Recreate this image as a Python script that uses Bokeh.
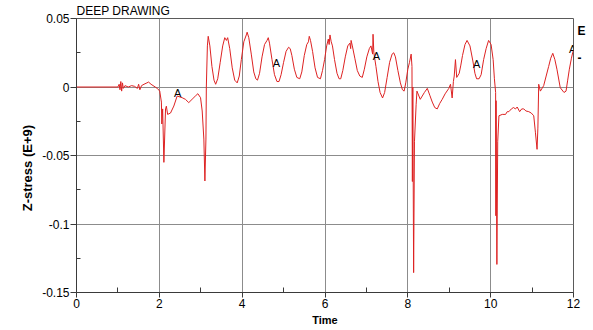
from bokeh.plotting import figure
from bokeh.models import Range1d, FixedTicker, ColumnDataSource, LinearAxis
from bokeh.embed import file_html
from bokeh.resources import INLINE
from bokeh.core.properties import value

title_text = "DEEP DRAWING"
y_label = "Z-stress (E+9)"
x_label = "Time"

x_ticks = [0, 2, 4, 6, 8, 10, 12]
x_minor = [1, 3, 5, 7, 9, 11]
y_ticks = [-0.15, -0.1, -0.05, 0, 0.05]
y_minor = [-0.125, -0.075, -0.025, 0.025]
y_tick_labels = ["-0.15", "-0.1", "-0.05", "0", "0.05"]

# clipped legend at the right edge
legend_y = [0.0409, 0.0212]
legend_text = ["E", "-"]

time = [0.0, 1.0, 1.03, 1.05, 1.07, 1.09, 1.11, 1.13, 1.17, 1.25, 1.33, 1.40, 1.47, 1.50, 1.53, 1.57,
        1.63, 1.70, 1.74, 1.80, 1.90, 1.95, 2.01, 2.05, 2.06, 2.08, 2.11, 2.15, 2.17, 2.20, 2.27,
        2.35, 2.43, 2.55, 2.63, 2.71, 2.79, 2.87, 2.93, 2.995, 3.035, 3.075, 3.10, 3.125, 3.135,
        3.16, 3.18, 3.22, 3.27, 3.32, 3.36, 3.41, 3.47, 3.53, 3.58, 3.62, 3.65, 3.70, 3.76, 3.82,
        3.88, 3.93, 3.98, 4.04, 4.10, 4.12, 4.16, 4.22, 4.28, 4.33, 4.37, 4.42, 4.48, 4.54, 4.60,
        4.63, 4.66, 4.72, 4.78, 4.84, 4.89, 4.94, 5.00, 5.06, 5.12, 5.16, 5.20, 5.26, 5.32, 5.39,
        5.44, 5.50, 5.56, 5.60, 5.62, 5.65, 5.70, 5.76, 5.82, 5.89, 5.94, 5.99, 6.04, 6.08, 6.10,
        6.12, 6.15, 6.18, 6.23, 6.29, 6.34, 6.38, 6.43, 6.49, 6.55, 6.60, 6.62, 6.63, 6.66, 6.72,
        6.78, 6.84, 6.90, 6.95, 7.01, 7.07, 7.11, 7.15, 7.16, 7.18, 7.23, 7.28, 7.33, 7.39, 7.44,
        7.50, 7.56, 7.62, 7.66, 7.70, 7.76, 7.82, 7.87, 7.91, 7.95, 8.00, 8.04, 8.08, 8.10, 8.11,
        8.12, 8.14, 8.16, 8.20, 8.22, 8.30, 8.40, 8.47, 8.53, 8.59, 8.65, 8.71, 8.77, 8.83, 8.90,
        8.99, 9.03, 9.07, 9.10, 9.12, 9.15, 9.18, 9.24, 9.28, 9.32, 9.38, 9.43, 9.50, 9.57, 9.62,
        9.66, 9.72, 9.77, 9.83, 9.89, 9.95, 10.01, 10.06, 10.09, 10.12, 10.125, 10.13, 10.15,
        10.17, 10.20, 10.28, 10.36, 10.40, 10.44, 10.50, 10.55, 10.60, 10.64, 10.70, 10.75, 10.80,
        10.85, 10.92, 10.98, 11.04, 11.08, 11.12, 11.14, 11.16, 11.20, 11.28, 11.34, 11.40, 11.45,
        11.50, 11.55, 11.60, 11.68, 11.77, 11.82, 11.86, 11.90, 11.95, 11.98, 12.0]

zstress = [0.0, 0.0, 0.002, -0.002, 0.004, -0.003, 0.003, -0.001, 0.001, 0.0, 0.001, 0.0005, -0.001,
           0.002, -0.002, 0.001, 0.002, 0.003, 0.0036, 0.002, 0.0, -0.001, -0.003, -0.011, -0.027,
           -0.016, -0.055, -0.016, -0.014, -0.020, -0.019, -0.0139, -0.0066, -0.0078, -0.009,
           -0.0114, -0.009, -0.0066, -0.0049, -0.0078, -0.0175, -0.038, -0.0686, -0.038, 0.0,
           0.030, 0.037, 0.030, 0.015, 0.005, 0.002, 0.006, 0.018, 0.030, 0.036, 0.034, 0.036,
           0.028, 0.014, 0.005, 0.003, 0.008, 0.020, 0.033, 0.038, 0.040, 0.036, 0.024, 0.011,
           0.006, 0.005, 0.010, 0.022, 0.031, 0.034, 0.036, 0.032, 0.020, 0.009, 0.004, 0.004,
           0.009, 0.018, 0.026, 0.029, 0.028, 0.023, 0.013, 0.007, 0.006, 0.011, 0.023, 0.031,
           0.033, 0.037, 0.034, 0.026, 0.014, 0.007, 0.006, 0.012, 0.020, 0.030, 0.035, 0.031,
           0.038, 0.033, 0.030, 0.020, 0.010, 0.006, 0.006, 0.012, 0.022, 0.030, 0.032, 0.028,
           0.034, 0.030, 0.021, 0.012, 0.008, 0.007, 0.013, 0.022, 0.028, 0.030, 0.024, 0.0385,
           0.025, 0.015, 0.004, -0.004, -0.008, -0.004, 0.007, 0.018, 0.024, 0.025, 0.022, 0.012,
           0.003, -0.002, -0.003, 0.003, 0.013, 0.018, 0.024, 0.015, -0.069, 0.0, -0.1355, -0.040,
           -0.013, -0.003, -0.009, -0.004, -0.001, -0.006, -0.011, -0.015, -0.016, -0.012, -0.009,
           -0.005, -0.001, 0.002, -0.008, 0.004, 0.008, 0.020, 0.007, 0.010, 0.016, 0.023, 0.031,
           0.034, 0.030, 0.019, 0.010, 0.006, 0.006, 0.009, 0.020, 0.028, 0.034, 0.031, 0.020,
           0.006, -0.004, -0.094, -0.010, -0.1295, -0.040, -0.021, -0.020, -0.020, -0.018, -0.018,
           -0.016, -0.015, -0.016, -0.0146, -0.018, -0.016, -0.016, -0.0175, -0.018, -0.019,
           -0.021, -0.033, -0.0455, -0.030, 0.002, -0.003, 0.001, 0.008, 0.015, 0.021, 0.0246,
           0.020, 0.013, -0.0005, -0.004, -0.003, 0.005, 0.013, 0.021, 0.025, 0.027]

a_x = [2.44, 4.83, 7.24, 9.66, 11.98]
a_y = [-0.0044, 0.0175, 0.0226, 0.0168, 0.028]
a_text = ["A", "A", "A", "A", "A"]

FONT = "Liberation Sans"
AXIS_COL = "#3a3a3a"

p = figure(width=593, height=330, output_backend="svg", toolbar_location=None,
           x_range=Range1d(0, 12), y_range=Range1d(-0.15, 0.05),
           min_border_left=76, min_border_right=20, min_border_top=18, min_border_bottom=38)
p.background_fill_color = "white"
p.border_fill_color = "white"
p.outline_line_color = "#5a5a5a"
p.outline_line_width = 1

# title
p.title.text = title_text
p.title.align = "left"
p.title.text_font = FONT
p.title.text_font_size = "12px"
p.title.text_font_style = "normal"
p.title.text_color = "black"
p.title.standoff = 1
p.title.offset = 0

p.line(time, zstress, line_color="#dd2222", line_width=1)

src = ColumnDataSource(dict(x=a_x, y=a_y, t=a_text))
p.text(x="x", y="y", text="t", source=src, text_font=value(FONT), text_font_size="11px",
       text_color="black", text_align="center", text_baseline="middle")

# x axis
xa = p.xaxis[0]
xa.ticker = FixedTicker(ticks=x_ticks, minor_ticks=x_minor)
xa.major_tick_in = 0
xa.major_tick_out = 5
xa.minor_tick_in = 5
xa.minor_tick_out = 0
xa.axis_line_color = AXIS_COL
xa.major_tick_line_color = AXIS_COL
xa.minor_tick_line_color = AXIS_COL
xa.major_label_text_font = FONT
xa.major_label_text_font_size = "12px"
xa.major_label_text_color = "black"
xa.major_label_standoff = 1
xa.axis_label = x_label
xa.axis_label_text_font = FONT
xa.axis_label_text_font_size = "11px"
xa.axis_label_text_font_style = "bold"
xa.axis_label_text_color = "black"
xa.axis_label_standoff = 3

# y axis
ya = p.yaxis[0]
ya.ticker = FixedTicker(ticks=y_ticks, minor_ticks=y_minor)
ya.major_tick_in = 0
ya.major_tick_out = 6
ya.minor_tick_in = 4
ya.minor_tick_out = 0
ya.axis_line_color = AXIS_COL
ya.major_tick_line_color = AXIS_COL
ya.minor_tick_line_color = AXIS_COL
ya.major_label_text_font = FONT
ya.major_label_text_font_size = "12px"
ya.major_label_text_color = "black"
ya.major_label_standoff = 1
ya.major_label_overrides = {t: s for t, s in zip(y_ticks, y_tick_labels)}
ya.axis_label = y_label + "\u00a0" * 7
ya.axis_label_text_font = FONT
ya.axis_label_text_font_size = "13px"
ya.axis_label_text_font_style = "bold"
ya.axis_label_text_color = "black"
ya.axis_label_standoff = 4

# right edge: clipped legend texts shown as tick labels of an invisible axis
ra = LinearAxis(ticker=FixedTicker(ticks=legend_y, minor_ticks=[]))
ra.major_label_overrides = {t: s for t, s in zip(legend_y, legend_text)}
ra.axis_line_color = None
ra.major_tick_line_color = None
ra.minor_tick_line_color = None
ra.major_tick_out = 0
ra.major_tick_in = 0
ra.major_label_standoff = 4
ra.major_label_text_font = FONT
ra.major_label_text_font_size = "12px"
ra.major_label_text_font_style = "bold"
ra.major_label_text_color = "black"
p.add_layout(ra, "right")

p.xgrid.ticker = FixedTicker(ticks=x_ticks)
p.ygrid.ticker = FixedTicker(ticks=y_ticks)
for g in (p.xgrid[0], p.ygrid[0]):
    g.grid_line_color = "#8c8c8c"
    g.grid_line_width = 1
    g.grid_line_alpha = 1

open("out.html", "w").write(file_html(p, INLINE))
